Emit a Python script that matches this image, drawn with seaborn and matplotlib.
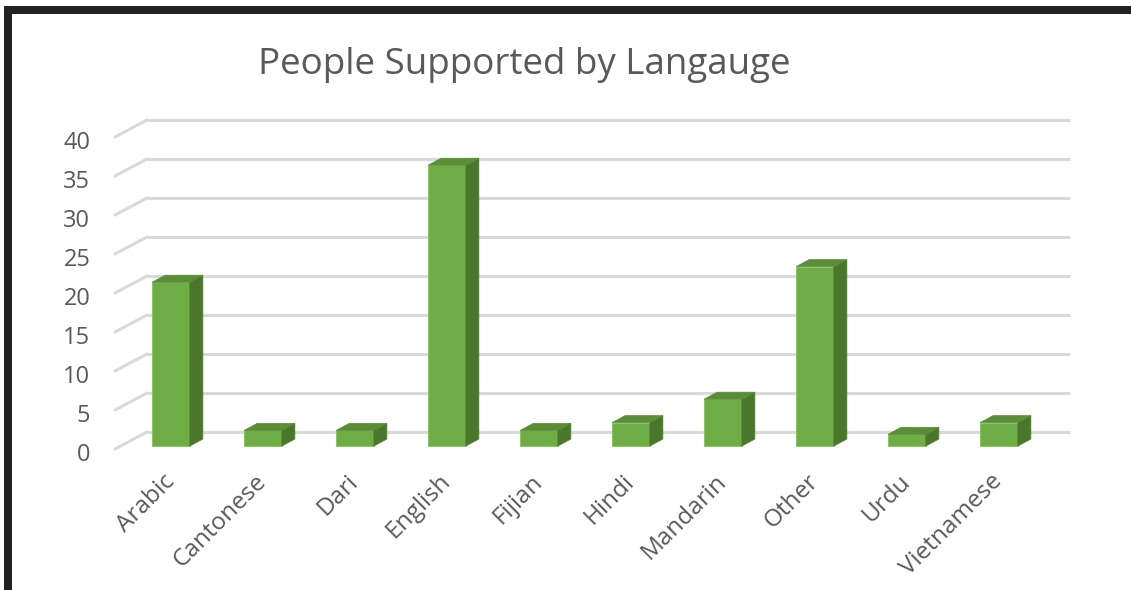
import matplotlib
matplotlib.use("Agg")
import matplotlib.pyplot as plt
import matplotlib.transforms as mtransforms
from matplotlib.patches import Polygon, Rectangle
import seaborn as sns
import pandas as pd

# ---- data ----
languages = ["Arabic", "Cantonese", "Dari", "English", "Fijian",
             "Hindi", "Mandarin", "Other", "Urdu", "Vietnamese"]
people = [21, 2, 2, 36, 2, 3, 6, 23, 1.5, 3]
y_ticks = [0, 5, 10, 15, 20, 25, 30, 35, 40]
title_text = "People Supported by Langauge"

# ---- style ----
W, H = 1131, 590
sns.set_theme(style="white")
plt.rcParams['font.family'] = ['Open Sans', 'DejaVu Sans']
TXT = '#595959'
FRONT = '#70AD47'
SIDE = '#4A772C'
TOP = '#5B8D39'
GRID = '#D9D9D9'

fig = plt.figure(figsize=(W / 100, H / 100), dpi=100)
# axes frame = front plane of the columns
ax_l, ax_r, ax_t, ax_b = 125, 1045, 134, 446
ax = fig.add_axes([ax_l / W, (H - ax_b) / H, (ax_r - ax_l) / W, (ax_b - ax_t) / H])
ax.set_xlim(-0.5, len(languages) - 0.5)
ax.set_ylim(y_ticks[0], y_ticks[-1])

px_per_unit_y = (ax_b - ax_t) / (y_ticks[-1] - y_ticks[0])
px_per_cat = (ax_r - ax_l) / len(languages)
axw = ax_r - ax_l

# ---- back wall gridlines with 3D floor connectors ----
ytr = ax.get_yaxis_transform()
back_up = 14 / px_per_unit_y
front_dn = 3 / px_per_unit_y
xb0 = (147 - ax_l) / axw
xb1 = (1070 - ax_l) / axw
xf = (115 - ax_l) / axw
for v in y_ticks:
    ax.plot([xb0, xb1], [v + back_up, v + back_up], transform=ytr,
            color=GRID, lw=2.2, clip_on=False, zorder=1, solid_capstyle='butt')
    ax.plot([xf, xb0], [v - front_dn, v + back_up], transform=ytr,
            color=GRID, lw=2.2, clip_on=False, zorder=1)

# ---- columns ----
df = pd.DataFrame({"Language": languages, "People": people})
sns.barplot(data=df, x="Language", y="People", color=FRONT, saturation=1,
            width=0.41, ax=ax, zorder=3, edgecolor='#86C060', linewidth=0.6)
ax.set_xlim(-0.5, len(languages) - 0.5)
ax.set_ylim(y_ticks[0], y_ticks[-1])

dx = 13 / px_per_cat
dy = 7 / px_per_unit_y
for p in list(ax.patches):
    x0, w, h = p.get_x(), p.get_width(), p.get_height()
    p.set_clip_on(False)
    side = Polygon([(x0 + w, 0), (x0 + w, h), (x0 + w + dx, h + dy), (x0 + w + dx, dy)],
                   closed=True, facecolor=SIDE, edgecolor=SIDE, lw=0.5,
                   zorder=3, clip_on=False)
    top = Polygon([(x0, h), (x0 + w, h), (x0 + w + dx, h + dy), (x0 + dx, h + dy)],
                  closed=True, facecolor=TOP, edgecolor=TOP, lw=0.5,
                  zorder=3, clip_on=False)
    ax.add_patch(side)
    ax.add_patch(top)

# ---- axes cosmetics ----
for s in ax.spines.values():
    s.set_visible(False)
ax.set_xlabel("")
ax.set_ylabel("")
ax.set_facecolor('none')
ax.set_yticks(y_ticks)
ax.set_yticklabels([str(t) for t in y_ticks])
ax.tick_params(axis='y', length=0, pad=25, labelsize=17, labelcolor=TXT)
ax.tick_params(axis='x', length=0, pad=23, labelsize=17.5, labelcolor=TXT)
down = mtransforms.ScaledTranslation(0, -6 / 100, fig.dpi_scale_trans)
for lab in ax.get_yticklabels():
    lab.set_transform(lab.get_transform() + down)
plt.setp(ax.get_xticklabels(), rotation=45, ha='right', va='center',
         rotation_mode='anchor')
ax.grid(False)

# ---- title ----
fig.text(524 / W, 1 - 65 / H, title_text, ha='center', va='center',
         fontsize=26.5, color=TXT)

# ---- chart frame ----
fig.patches.append(Rectangle((7.5 / W, -0.5), 2.0, (1 - 10 / H) + 0.5,
                             transform=fig.transFigure, fill=False,
                             lw=8 * 0.72, ec='#222222', zorder=10))

fig.savefig("out.png", dpi=100)
